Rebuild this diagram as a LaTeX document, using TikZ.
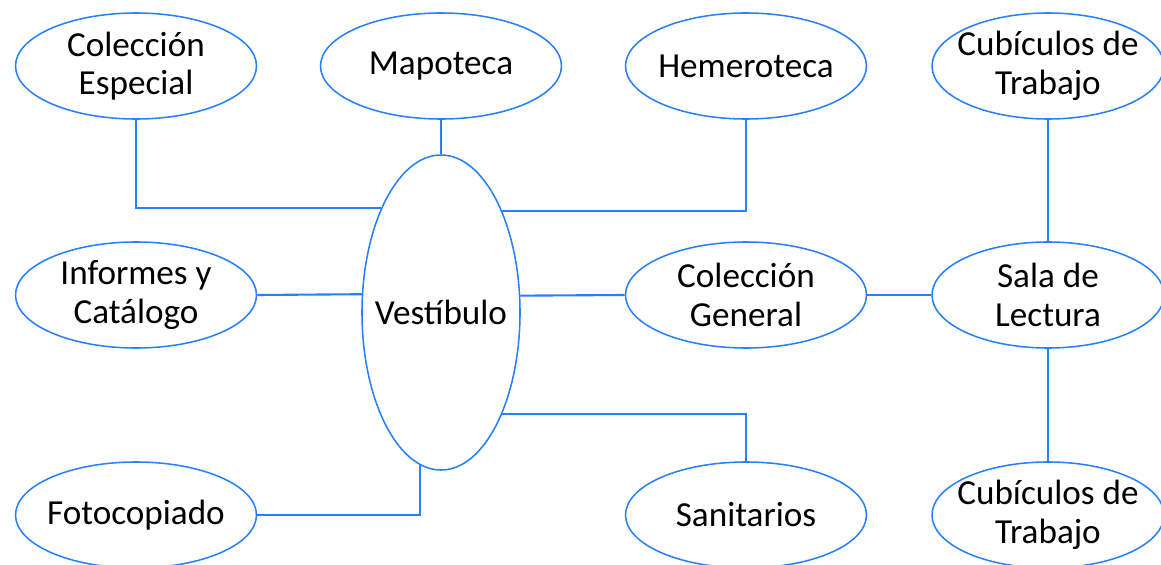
\documentclass[tikz,border=0pt]{standalone}
\usepackage{fontspec}
\setmainfont{Carlito}
\usepackage{tikz}
\usetikzlibrary{shapes.geometric, positioning, calc}

\definecolor{roomblue}{RGB}{40,128,250}

\tikzset{
    room/.style={ellipse, draw=roomblue, line width=1.1pt, minimum width=6.025cm,
        minimum height=2.65cm, inner xsep=-10pt, inner ysep=-4pt, align=center,
        font=\fontsize{25}{27.5}\selectfont},
    link/.style={draw=roomblue, line width=1.5pt}
}

\begin{document}
\begin{tikzpicture}

            \useasboundingbox (0,0) rectangle (29.025,14.1);

            % Top row
            \node[room] (colesp) at (3.4, 12.45) {Colección\\Especial};
            \node[room] (mapo) at (11.025, 12.45) {Mapoteca};
            \node[room] (hemero) at (18.65, 12.45) {Hemeroteca};
            \node[room, minimum width=5.8cm] (cubA) at (26.2, 12.45) {Cubículos de\\Trabajo};

            % Middle row
            \node[room] (infor) at (3.4, 6.725) {Informes y\\Catálogo};
            \node[room, minimum width=3.95cm, minimum height=7.875cm] (vest) at (11.025, 6.2875) {Vestíbulo};
            \node[room] (colgen) at (18.65, 6.725) {Colección\\General};
            \node[room, minimum width=5.8cm] (sala) at (26.2, 6.725) {Sala de\\Lectura};

            % Bottom row
            \node[room] (foto) at (3.4, 1.225) {Fotocopiado};
            \node[room] (sanit) at (18.65, 1.225) {Sanitarios};
            \node[room, minimum width=5.8cm] (cubB) at (26.2, 1.225) {Cubículos de\\Trabajo};

            % Links from the Vestibulo
            \draw[link] (colesp.south) |- (vest.120.6);
            \draw[link] (mapo.south) -- (vest.north);
            \draw[link] (hemero.south) |- (vest.59.4);
            \draw[link] (infor.east) -- (vest.167.8);
            \draw[link] (vest.12.2) -- (colgen.west);
            \draw[link] (vest.-59.4) -| (sanit.north);
            \draw[link] (vest.262.9) |- (foto.east);

            % Reading room branch
            \draw[link] (colgen.east) -- (sala.west);
            \draw[link] (cubA.south) -- (sala.north);
            \draw[link] (sala.south) -- (cubB.north);

\end{tikzpicture}
\end{document}
